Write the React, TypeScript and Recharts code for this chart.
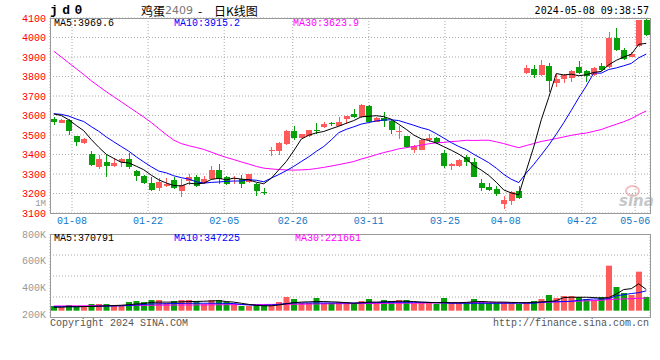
import React from 'react';
import { ComposedChart, Bar, Line, XAxis, YAxis, CartesianGrid, Cell } from 'recharts';

const MONO = "'Liberation Mono', 'DejaVu Sans Mono', monospace";
const UP = '#ff5b5b';
const DOWN = '#08a008';

const dates = [
  '01-03', '01-04', '01-05', '01-08', '01-09', '01-10', '01-11', '01-12', '01-15', '01-16',
  '01-17', '01-18', '01-19', '01-22', '01-23', '01-24', '01-25', '01-26', '01-29', '01-30',
  '01-31', '02-01', '02-02', '02-05', '02-06', '02-07', '02-08', '02-19', '02-20', '02-21',
  '02-22', '02-23', '02-26', '02-27', '02-28', '02-29', '03-01', '03-04', '03-05', '03-06',
  '03-07', '03-08', '03-11', '03-12', '03-13', '03-14', '03-15', '03-18', '03-19', '03-20',
  '03-21', '03-22', '03-25', '03-26', '03-27', '03-28', '03-29', '04-01', '04-02', '04-03',
  '04-08', '04-09', '04-10', '04-11', '04-12', '04-15', '04-16', '04-17', '04-18', '04-19',
  '04-22', '04-23', '04-24', '04-25', '04-26', '04-29', '04-30', '05-06', '05-07', '05-08',
];

const opens = [
  3583, 3564, 3579, 3494, 3460, 3403, 3334, 3359, 3343, 3363,
  3376, 3314, 3292, 3252, 3227, 3239, 3267, 3213, 3264, 3286,
  3252, 3272, 3322, 3286, 3272, 3275, 3259, 3247, 3208, 3420,
  3420, 3453, 3519, 3487, 3495, 3527, 3541, 3561, 3546, 3583,
  3608, 3591, 3650, 3566, 3587, 3574, 3517, 3496, 3422, 3422,
  3474, 3486, 3410, 3339, 3343, 3386, 3364, 3252, 3235, 3222,
  3146, 3160, 3211, 3819, 3836, 3807, 3853, 3765, 3787, 3790,
  3850, 3828, 3807, 3853, 3847, 4000, 3935, 3901, 3956, 4092,
];
const highs = [
  3594, 3583, 3582, 3496, 3487, 3420, 3395, 3395, 3381, 3381,
  3406, 3322, 3297, 3286, 3281, 3281, 3284, 3272, 3301, 3297,
  3292, 3339, 3353, 3292, 3289, 3297, 3302, 3255, 3230, 3437,
  3465, 3527, 3544, 3507, 3527, 3564, 3566, 3569, 3594, 3600,
  3633, 3659, 3654, 3591, 3617, 3583, 3544, 3496, 3449, 3479,
  3507, 3491, 3423, 3356, 3376, 3398, 3381, 3272, 3252, 3239,
  3185, 3211, 3240, 3859, 3859, 3884, 3870, 3813, 3813, 3833,
  3879, 3833, 3847, 3870, 4029, 4049, 3944, 3927, 4092, 4096,
];
const lows = [
  3551, 3561, 3502, 3445, 3453, 3339, 3326, 3284, 3334, 3336,
  3326, 3264, 3250, 3215, 3213, 3235, 3222, 3183, 3244, 3234,
  3247, 3269, 3247, 3244, 3250, 3227, 3252, 3188, 3192, 3393,
  3398, 3448, 3473, 3485, 3490, 3507, 3536, 3544, 3544, 3557,
  3587, 3587, 3566, 3566, 3541, 3507, 3477, 3432, 3410, 3422,
  3465, 3452, 3331, 3322, 3336, 3343, 3284, 3213, 3213, 3188,
  3121, 3143, 3172, 3813, 3794, 3802, 3722, 3744, 3768, 3773,
  3813, 3770, 3802, 3828, 3845, 3930, 3884, 3898, 3952, 4007,
];
const closes = [
  3569, 3579, 3520, 3462, 3478, 3348, 3376, 3343, 3356, 3378,
  3334, 3289, 3252, 3217, 3260, 3250, 3227, 3242, 3286, 3239,
  3272, 3322, 3272, 3247, 3282, 3247, 3302, 3213, 3205, 3423,
  3460, 3519, 3487, 3504, 3524, 3520, 3557, 3554, 3569, 3599,
  3591, 3654, 3566, 3586, 3574, 3527, 3520, 3437, 3442, 3474,
  3486, 3457, 3339, 3353, 3373, 3364, 3284, 3227, 3218, 3197,
  3165, 3206, 3177, 3842, 3807, 3859, 3778, 3787, 3807, 3828,
  3819, 3804, 3845, 3833, 4000, 3935, 3888, 3915, 4089, 4012,
];

const ma5 = [
  3608, 3600, 3578, 3549, 3522, 3477, 3437, 3401, 3380, 3360,
  3357, 3340, 3322, 3294, 3270, 3254, 3241, 3239, 3253, 3249,
  3253, 3272, 3278, 3270, 3279, 3274, 3270, 3258, 3250, 3278,
  3321, 3364, 3419, 3479, 3499, 3511, 3518, 3532, 3545, 3560,
  3574, 3593, 3596, 3599, 3594, 3581, 3555, 3529, 3500, 3480,
  3472, 3459, 3440, 3422, 3402, 3377, 3343, 3320, 3293, 3258,
  3218, 3203, 3193, 3317, 3439, 3578, 3693, 3815, 3808, 3812,
  3804, 3809, 3821, 3826, 3860, 3883, 3900, 3914, 3965, 3970,
];
const ma10 = [
  3609, 3606, 3597, 3582, 3569, 3543, 3519, 3490, 3465, 3441,
  3417, 3388, 3362, 3337, 3315, 3306, 3291, 3281, 3274, 3260,
  3253, 3257, 3259, 3262, 3264, 3264, 3271, 3268, 3260, 3279,
  3297, 3317, 3339, 3364, 3388, 3416, 3441, 3475, 3512, 3529,
  3542, 3556, 3564, 3572, 3577, 3578, 3574, 3562, 3550, 3537,
  3527, 3507, 3484, 3461, 3441, 3425, 3401, 3380, 3358, 3330,
  3298, 3273, 3256, 3305, 3349, 3398, 3448, 3504, 3563, 3626,
  3691, 3751, 3818, 3817, 3836, 3844, 3855, 3867, 3896, 3915,
];
const ma30 = [
  3930, 3900, 3870, 3840, 3810, 3778, 3750, 3722, 3696, 3670,
  3644, 3618, 3592, 3564, 3533, 3502, 3474, 3456, 3445, 3436,
  3426, 3412, 3398, 3385, 3374, 3362, 3351, 3339, 3330, 3326,
  3323, 3321, 3320, 3321, 3323, 3328, 3334, 3341, 3348, 3356,
  3364, 3377, 3387, 3399, 3410, 3419, 3429, 3435, 3441, 3448,
  3455, 3460, 3462, 3466, 3469, 3473, 3472, 3473, 3473, 3465,
  3456, 3445, 3435, 3446, 3456, 3467, 3474, 3482, 3490, 3498,
  3505, 3510, 3519, 3528, 3542, 3555, 3568, 3584, 3605, 3623,
];

const volumes = [
  82000, 65000, 100000, 65000, 65000, 117000, 117000, 117000, 100000, 100000,
  152000, 170000, 152000, 187000, 187000, 135000, 170000, 187000, 187000, 170000,
  117000, 187000, 187000, 152000, 117000, 82000, 82000, 100000, 100000, 100000,
  152000, 240000, 205000, 135000, 135000, 222000, 135000, 135000, 152000, 152000,
  135000, 170000, 205000, 135000, 187000, 170000, 187000, 187000, 135000, 135000,
  135000, 117000, 222000, 135000, 135000, 135000, 205000, 170000, 135000, 135000,
  152000, 152000, 117000, 135000, 170000, 205000, 275000, 222000, 257000, 257000,
  240000, 205000, 187000, 240000, 788000, 415000, 310000, 275000, 683000, 240000,
];
const volMa5 = [
  60000, 62000, 70000, 70000, 72000, 75000, 80000, 85000, 90000, 95000,
  105000, 117000, 125000, 145000, 150000, 150000, 150000, 155000, 160000, 162000,
  165000, 170000, 175000, 160000, 150000, 130000, 110000, 95000, 85000, 85000,
  100000, 120000, 140000, 150000, 155000, 160000, 160000, 155000, 150000, 140000,
  130000, 140000, 150000, 150000, 155000, 160000, 165000, 165000, 160000, 150000,
  145000, 140000, 145000, 140000, 140000, 145000, 155000, 160000, 155000, 150000,
  150000, 145000, 140000, 140000, 145000, 155000, 160000, 175000, 230000, 235000,
  235000, 235000, 230000, 220000, 230000, 290000, 370000, 385000, 470000, 371000,
];
const volMa10 = [
  70000, 70000, 70000, 70000, 72000, 75000, 78000, 80000, 82000, 85000,
  90000, 100000, 110000, 118000, 120000, 122000, 125000, 128000, 130000, 130000,
  130000, 130000, 130000, 128000, 125000, 110000, 100000, 95000, 95000, 100000,
  110000, 125000, 135000, 135000, 135000, 135000, 135000, 135000, 135000, 135000,
  135000, 135000, 138000, 140000, 145000, 147000, 147000, 147000, 147000, 147000,
  145000, 140000, 135000, 130000, 130000, 130000, 130000, 130000, 130000, 130000,
  130000, 130000, 130000, 130000, 130000, 145000, 155000, 157000, 160000, 165000,
  180000, 195000, 205000, 205000, 210000, 260000, 280000, 300000, 315000, 347000,
];
const volMa30 = [
  82000, 83000, 84000, 85000, 86000, 87000, 88000, 89000, 90000, 91000,
  92000, 93000, 94000, 95000, 96000, 97000, 98000, 99000, 100000, 100000,
  101000, 102000, 103000, 104000, 105000, 106000, 107000, 108000, 109000, 110000,
  111000, 112000, 113000, 114000, 116000, 118000, 120000, 121000, 122000, 123000,
  124000, 125000, 126000, 127000, 128000, 129000, 130000, 131000, 132000, 133000,
  134000, 135000, 136000, 137000, 138000, 139000, 140000, 140000, 140000, 140000,
  141000, 141000, 142000, 142000, 143000, 145000, 148000, 152000, 157000, 162000,
  167000, 172000, 177000, 182000, 195000, 200000, 205000, 210000, 216000, 222000,
];

const dateTicks = ['01-08', '01-22', '02-05', '02-26', '03-11', '03-25', '04-08', '04-22', '05-06'];
const priceTicks = [3100, 3200, 3300, 3400, 3500, 3600, 3700, 3800, 3900, 4000, 4100];
const volumeTicks = [200000, 400000, 600000, 800000];

// sina spaces its date grid a bit wider than the candle slots
const gridTicks = dateTicks.map((d) => (7.61 * dates.indexOf(d) - 0.8) / 7.5 - 0.5);

const rows = dates.map((date, i) => ({
  i,
  date,
  open: opens[i],
  high: highs[i],
  low: lows[i],
  close: closes[i],
  range: [lows[i], highs[i]],
  ma5: ma5[i],
  ma10: ma10[i],
  ma30: ma30[i],
  vol: volumes[i],
  vma5: volMa5[i],
  vma10: volMa10[i],
  vma30: volMa30[i],
}));

const Candle = (props: any) => {
  const { x, y, width, height, payload } = props;
  if (x == null || y == null || !payload) return null;
  const { open, close, high, low } = payload;
  const color = close >= open ? UP : DOWN;
  const top = Math.min(y, y + height);
  const h = Math.abs(height);
  const k = high !== low ? h / (high - low) : 0;
  const yo = top + (high - open) * k;
  const yc = top + (high - close) * k;
  const cx = Math.floor(x + width / 2) + 0.5;
  return (
    <g shapeRendering="crispEdges">
      <line x1={cx} x2={cx} y1={top} y2={top + h} stroke={color} strokeWidth={1} />
      <rect x={Math.round(x)} y={Math.min(yo, yc)} width={width} height={Math.max(1, Math.abs(yo - yc))} fill={color} />
    </g>
  );
};

const Txt = ({ x, y, color = '#000', size = 10, lh = 12, family = MONO, right = false, bold = false, children, style }: any) => (
  <div
    style={{
      position: 'absolute',
      left: right ? undefined : x,
      right: right ? 660 - x : undefined,
      top: y - lh / 2,
      height: lh,
      lineHeight: `${lh}px`,
      fontSize: size,
      fontFamily: family,
      fontWeight: bold ? 'bold' : 'normal',
      color,
      whiteSpace: 'pre',
      ...style,
    }}
  >
    {children}
  </div>
);

const gridProps = { stroke: '#aaa', strokeDasharray: '1 2' };

export default function App() {
  return (
    <div style={{ position: 'absolute', left: 0, top: 0, width: 660, height: 360, background: '#fff', overflow: 'hidden' }}>
      {/* sina watermark */}
      <div style={{ position: 'absolute', left: 625, top: 185, width: 11, height: 8, borderRadius: '50%', border: '2px solid #f2c0c0' }} />
      <Txt x={619} y={201} color="#c8c8c8" size={15} lh={16} family="'DejaVu Sans', sans-serif" bold style={{ fontStyle: 'italic' }}>sina</Txt>

      <ComposedChart
        width={660}
        height={234}
        data={rows}
        margin={{ top: 18, right: 10, bottom: 0, left: 0 }}
        style={{ position: 'absolute', left: 0, top: 0 }}
      >
        <CartesianGrid {...gridProps} />
        <XAxis
          type="number"
          dataKey="i"
          domain={[-0.5, 79.5]}
          allowDataOverflow
          ticks={gridTicks}
          interval={0}
          tickFormatter={(_v: number, k: number) => dateTicks[k]}
          axisLine={false}
          tickLine={false}
          tickSize={0}
          tickMargin={4}
          height={21}
          tick={{ fill: '#1178c8', fontSize: 10, fontFamily: MONO }}
        />
        <YAxis
          domain={[3100, 4100]}
          allowDataOverflow
          ticks={priceTicks}
          interval={0}
          width={50}
          axisLine={false}
          tickLine={false}
          tickSize={0}
          tickMargin={4}
          tick={{ fill: '#ff0000', fontSize: 10, fontFamily: MONO }}
        />
        <Bar dataKey="range" barSize={6} shape={<Candle />} isAnimationActive={false} />
        <Line dataKey="ma30" stroke="#ff00ff" strokeWidth={1} dot={false} isAnimationActive={false} />
        <Line dataKey="ma10" stroke="#0000ff" strokeWidth={1} dot={false} isAnimationActive={false} />
        <Line dataKey="ma5" stroke="#000000" strokeWidth={1} dot={false} isAnimationActive={false} />
      </ComposedChart>

      <ComposedChart
        width={660}
        height={100}
        data={rows}
        margin={{ top: 8, right: 10, bottom: 7, left: 0 }}
        style={{ position: 'absolute', left: 0, top: 226 }}
      >
        <CartesianGrid
          {...gridProps}
          yAxisId="v"
          horizontalCoordinatesGenerator={({ offset }: any) => [1, 2, 3].map((q) => offset.top + (offset.height * q) / 4)}
        />
        <XAxis
          type="number"
          dataKey="i"
          domain={[-0.5, 79.5]}
          allowDataOverflow
          ticks={gridTicks}
          interval={0}
          axisLine={false}
          tickLine={false}
          tick={false}
          height={1}
        />
        <YAxis yAxisId="v" domain={[-128000, 1342000]} allowDataOverflow hide />
        <YAxis
          yAxisId="lbl"
          domain={[170000, 800000]}
          allowDataOverflow
          ticks={volumeTicks}
          interval={0}
          width={50}
          axisLine={false}
          tickLine={false}
          tickSize={0}
          tickMargin={4}
          tickFormatter={(v: number) => `${v / 1000}K`}
          tick={{ fill: '#999', fontSize: 10, fontFamily: MONO }}
        />
        <Bar yAxisId="v" dataKey="vol" barSize={6} isAnimationActive={false}>
          {rows.map((r) => (
            <Cell key={r.i} fill={r.close >= r.open ? UP : DOWN} />
          ))}
        </Bar>
        <Line yAxisId="v" dataKey="vma30" stroke="#ff00ff" strokeWidth={1} dot={false} isAnimationActive={false} />
        <Line yAxisId="v" dataKey="vma10" stroke="#0000ff" strokeWidth={1} dot={false} isAnimationActive={false} />
        <Line yAxisId="v" dataKey="vma5" stroke="#000000" strokeWidth={1} dot={false} isAnimationActive={false} />
      </ComposedChart>

      {/* panel frames */}
      <div style={{ position: 'absolute', left: 50, top: 18, width: 601, height: 196, border: '1px solid #999', boxSizing: 'border-box', pointerEvents: 'none' }} />
      <div style={{ position: 'absolute', left: 50, top: 234, width: 601, height: 84, border: '1px solid #999', boxSizing: 'border-box', pointerEvents: 'none' }} />

      {/* header */}
      <Txt x={50} y={11} size={13} bold style={{ letterSpacing: 4.5 }}>jd0</Txt>
      <Txt x={141} y={11} size={12} family="'Noto Sans CJK SC', sans-serif">鸡蛋</Txt>
      <Txt x={165} y={11} size={11} color="#777" family="'DejaVu Sans', sans-serif">2409</Txt>
      <Txt x={198} y={11} size={12} family="'Noto Sans CJK SC', sans-serif">-</Txt>
      <Txt x={214} y={11} size={12} family="'Noto Sans CJK SC', sans-serif">日K线图</Txt>
      <Txt x={649} y={11} right family="'DejaVu Sans Mono', monospace">2024-05-08 09:38:57</Txt>

      {/* price legend */}
      <Txt x={54} y={23.5}>MA5:3969.6</Txt>
      <Txt x={174} y={23.5} color="#0000ff">MA10:3915.2</Txt>
      <Txt x={293} y={23.5} color="#ff00ff">MA30:3623.9</Txt>
      <Txt x={46} y={204} right size={9} lh={6} color="#999">1M</Txt>

      {/* volume legend */}
      <Txt x={54} y={239}>MA5:370791</Txt>
      <Txt x={174} y={239} color="#0000ff">MA10:347225</Txt>
      <Txt x={295} y={239} color="#ff00ff">MA30:221661</Txt>

      {/* footer */}
      <Txt x={50} y={324} color="#555">Copyright 2024 SINA.COM</Txt>
      <Txt x={649} y={324} right color="#555">http://finance.sina.com.cn</Txt>
    </div>
  );
}
